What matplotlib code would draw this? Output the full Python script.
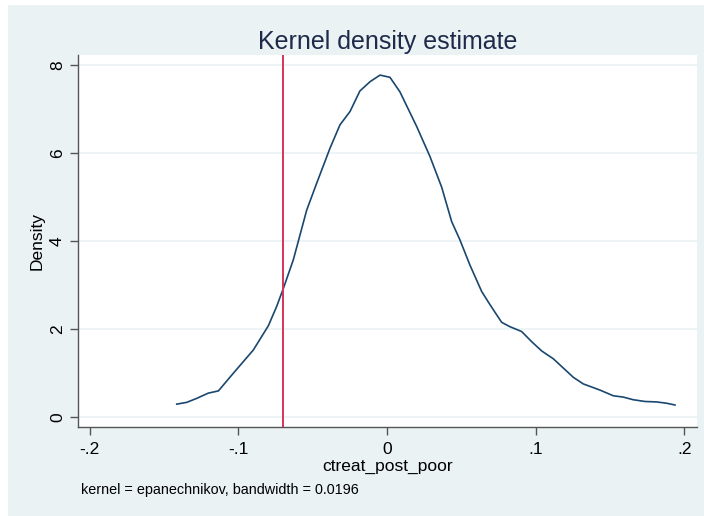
import matplotlib
matplotlib.use("Agg")
import matplotlib.pyplot as plt
from matplotlib.patches import Rectangle

plt.rcParams['font.family'] = ['Liberation Sans', 'DejaVu Sans']

# density curve
xs = [-0.1414, -0.1347, -0.128, -0.1202, -0.1134, -0.1044, -0.0955, -0.0899,
      -0.0798, -0.0742, -0.0697, -0.063, -0.054, -0.0473, -0.0383, -0.0316,
      -0.0249, -0.0182, -0.0114, -0.0047, 0.002, 0.0087, 0.020, 0.0289,
      0.0368, 0.0435, 0.0491, 0.0558, 0.0637, 0.0693, 0.0771, 0.0827,
      0.0906, 0.0973, 0.104, 0.1119, 0.1186, 0.1253, 0.132, 0.1432,
      0.1522, 0.1589, 0.1656, 0.1735, 0.1814, 0.1881, 0.1937]
dens = [0.29, 0.33, 0.42, 0.54, 0.59, 0.95, 1.30, 1.52,
        2.07, 2.51, 2.92, 3.57, 4.70, 5.31, 6.11, 6.64,
        6.94, 7.41, 7.62, 7.77, 7.72, 7.39, 6.60, 5.92,
        5.22, 4.44, 4.02, 3.45, 2.85, 2.55, 2.15, 2.05,
        1.94, 1.71, 1.50, 1.32, 1.11, 0.90, 0.75, 0.61,
        0.48, 0.45, 0.39, 0.35, 0.34, 0.31, 0.27]
cutoff = -0.07

xticks = [-0.2, -0.1, 0, 0.1, 0.2]
xticklabels = ['-.2', '-.1', '0', '.1', '.2']
yticks = [0, 2, 4, 6, 8]

bg = '#eaf2f3'
fig = plt.figure(figsize=(7.04, 5.16), dpi=100)
fig.patch.set_facecolor('white')
fig.patches.append(Rectangle((8/704, 0), 1, 1 - 5/516, transform=fig.transFigure,
                             facecolor=bg, edgecolor='none', zorder=-1))

ax = fig.add_axes([78.3/704, 1 - 427/516, 618.4/704, 372/516])
ax.set_facecolor('white')
ax.plot(xs, dens, color='#1a476f', lw=1.2)
ax.axvline(cutoff, color='#d6335a', lw=1.4)

ax.set_xlim(-0.2076, 0.2083)
ax.set_ylim(-0.23, 8.227)
ax.set_xticks(xticks)
ax.set_xticklabels(xticklabels)
ax.set_yticks(yticks)
ax.set_yticklabels([str(t) for t in yticks], rotation=90, va='center')
ax.grid(axis='y', color=bg, lw=1.2)
ax.set_axisbelow(True)
for s in ['top', 'right']:
    ax.spines[s].set_visible(False)
for s in ['left', 'bottom']:
    ax.spines[s].set_color('#555555')
    ax.spines[s].set_linewidth(1.0)
ax.tick_params(colors='#555555', labelcolor='black', labelsize=12.5, length=6, width=1)
ax.tick_params(axis='x', pad=5)

ax.set_xlabel('ctreat_post_poor', fontsize=12.5, labelpad=1)
ax.set_ylabel('Density', fontsize=12.5, labelpad=4)
ax.set_title('Kernel density estimate', fontsize=18, color='#1e2a4a', pad=4)
fig.text(81/704, 1 - 490/516, 'kernel = epanechnikov, bandwidth = 0.0196',
         fontsize=10.4, va='center')

fig.savefig('out.png', dpi=100, facecolor=fig.get_facecolor())
